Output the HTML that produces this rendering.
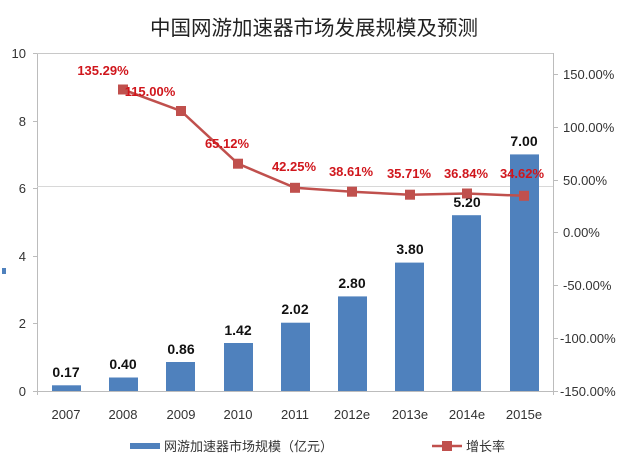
<!DOCTYPE html>
<html><head><meta charset="utf-8"><style>
body{margin:0;background:#fff}
svg{display:block;font-family:"Liberation Sans","Noto Sans CJK SC",sans-serif}
</style></head><body>
<svg width="627" height="459" viewBox="0 0 627 459" xmlns="http://www.w3.org/2000/svg">
<rect width="627" height="459" fill="#fff"/>
<rect x="2" y="268" width="4" height="6" fill="#4f81bd"/>
<text x="314" y="35" font-size="20.5" text-anchor="middle" fill="#222">中国网游加速器市场发展规模及预测</text>
<!-- plot frame -->
<line x1="37.5" y1="53" x2="37.5" y2="395" stroke="#bcbcbc"/>
<line x1="553.5" y1="53" x2="553.5" y2="395" stroke="#bcbcbc"/>
<line x1="37" y1="53.5" x2="553" y2="53.5" stroke="#c8c8c8"/>
<line x1="33" y1="391.5" x2="553" y2="391.5" stroke="#bcbcbc"/>
<line x1="37" y1="186.5" x2="553" y2="186.5" stroke="#d8d8d8"/>
<g stroke="#bcbcbc">
<line x1="33" y1="53.5" x2="37" y2="53.5"/><line x1="33" y1="121.5" x2="37" y2="121.5"/><line x1="33" y1="188.5" x2="37" y2="188.5"/><line x1="33" y1="256.5" x2="37" y2="256.5"/><line x1="33" y1="323.5" x2="37" y2="323.5"/>
<line x1="553" y1="74.5" x2="558" y2="74.5"/><line x1="553" y1="127.5" x2="558" y2="127.5"/><line x1="553" y1="180.5" x2="558" y2="180.5"/><line x1="553" y1="232.5" x2="558" y2="232.5"/><line x1="553" y1="285.5" x2="558" y2="285.5"/><line x1="553" y1="338.5" x2="558" y2="338.5"/><line x1="553" y1="391.5" x2="558" y2="391.5"/>
</g>
<g font-size="13" fill="#333" text-anchor="end">
<text x="26" y="58">10</text><text x="26" y="126">8</text><text x="26" y="193">6</text><text x="26" y="261">4</text><text x="26" y="328">2</text><text x="26" y="396">0</text>
</g>
<g font-size="13" fill="#333" text-anchor="start">
<text x="563" y="79">150.00%</text><text x="563" y="132">100.00%</text><text x="563" y="185">50.00%</text><text x="563" y="237">0.00%</text><text x="563" y="290">-50.00%</text><text x="560" y="343">-100.00%</text><text x="560" y="396">-150.00%</text>
</g>
<!-- bars -->
<g fill="#4f81bd">
<rect x="52" y="385.3" width="29" height="5.7"/>
<rect x="109" y="377.5" width="29" height="13.5"/>
<rect x="166" y="362" width="29" height="29"/>
<rect x="224" y="343" width="29" height="48"/>
<rect x="281" y="322.7" width="29" height="68.3"/>
<rect x="338" y="296.4" width="29" height="94.6"/>
<rect x="395" y="262.6" width="29" height="128.4"/>
<rect x="452" y="215.2" width="29" height="175.8"/>
<rect x="510" y="154.4" width="29" height="236.6"/>
</g>
<g font-size="14" font-weight="bold" fill="#111" text-anchor="middle">
<text x="66" y="377">0.17</text><text x="123" y="369">0.40</text><text x="181" y="354">0.86</text><text x="238" y="335">1.42</text><text x="295" y="314">2.02</text><text x="352" y="288">2.80</text><text x="410" y="254">3.80</text><text x="467" y="207">5.20</text><text x="524" y="146">7.00</text>
</g>
<g font-size="13" fill="#333" text-anchor="middle">
<text x="66" y="419">2007</text><text x="123" y="419">2008</text><text x="181" y="419">2009</text><text x="238" y="419">2010</text><text x="295" y="419">2011</text><text x="352" y="419">2012e</text><text x="410" y="419">2013e</text><text x="467" y="419">2014e</text><text x="524" y="419">2015e</text>
</g>
<!-- line -->
<polyline points="123,89.5 181,111 238,163.7 295,187.8 352,191.7 410,194.7 467,193.5 524,195.8" fill="none" stroke="#c0504d" stroke-width="2.5"/>
<g fill="#c0504d">
<rect x="118" y="84.5" width="10" height="10"/><rect x="176" y="106" width="10" height="10"/><rect x="233" y="158.7" width="10" height="10"/><rect x="290" y="182.8" width="10" height="10"/><rect x="347" y="186.7" width="10" height="10"/><rect x="405" y="189.7" width="10" height="10"/><rect x="462" y="188.5" width="10" height="10"/><rect x="519" y="190.8" width="10" height="10"/>
</g>
<g font-size="13" font-weight="bold" fill="#d0161c" text-anchor="middle">
<text x="103" y="75">135.29%</text><text x="150" y="96">115.00%</text><text x="227" y="148">65.12%</text><text x="294" y="171">42.25%</text><text x="351" y="176">38.61%</text><text x="409" y="178">35.71%</text><text x="466" y="178">36.84%</text><text x="522" y="178">34.62%</text>
</g>
<!-- legend -->
<rect x="130" y="443" width="30" height="6" fill="#4f81bd"/>
<text x="164" y="451" font-size="13" fill="#333">网游加速器市场规模（亿元）</text>
<line x1="432" y1="446" x2="462" y2="446" stroke="#c0504d" stroke-width="2.5"/>
<rect x="442" y="441" width="10" height="10" fill="#c0504d"/>
<text x="466" y="451" font-size="13" fill="#333">增长率</text>
</svg>
</body></html>
